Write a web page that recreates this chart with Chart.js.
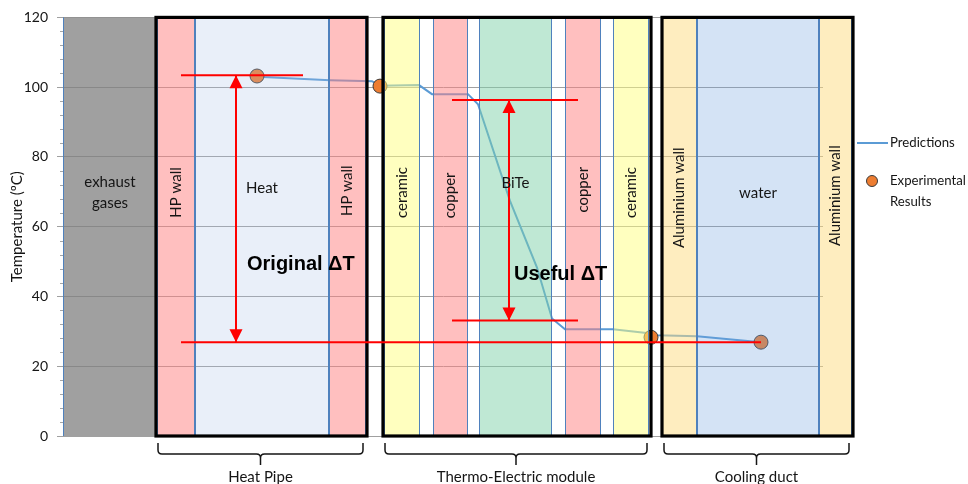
<!DOCTYPE html>
<html>
<head>
<meta charset="utf-8">
<script src="https://cdn.jsdelivr.net/npm/chart.js@4.4.1/dist/chart.umd.min.js"></script>
<style>
  html, body { margin: 0; padding: 0; background: #fff; }
  #wrap { width: 968px; height: 484px; }
</style>
</head>
<body>
<div id="wrap"><canvas id="chart" width="968" height="484"></canvas></div>
<script>
// 数据 (x = position across the assembly, y = temperature in ºC)
const predX = [195, 200, 267, 309, 317, 356, 369, 405, 415, 447, 474, 489, 502, 550, 588, 594, 634, 698];
const predY = [103.1, 102.9, 102.0, 101.7, 100.4, 100.6, 98.0, 98.0, 95.1, 67.4, 48.3, 33.7, 30.6, 30.6, 29.4, 28.9, 28.6, 26.9];
const expX = [194, 317, 588, 698];
const expY = [103.2, 100.3, 28.3, 26.9];

// layers of the assembly
const layerNames = ['exhaust gases', 'HP wall', 'Heat', 'HP wall', 'ceramic', 'copper', 'BiTe', 'copper', 'ceramic', 'Aluminium wall', 'water', 'Aluminium wall'];
const layerKinds = ['gas', 'hpwall', 'hpcore', 'hpwall', 'ceramic', 'copper', 'bite', 'copper', 'ceramic', 'alu', 'water', 'alu'];
const layerStart = [0, 94, 132, 266, 321, 370, 416, 502, 550, 599, 634, 756];
const layerEnd = [94, 132, 266, 303, 357, 405, 489, 538, 586, 634, 756, 789];
const layerLabelY = [69.9, 69.8, 71.1, 70.3, 69.8, 69.0, 72.6, 70.6, 69.8, 68.3, 69.7, 68.9];

// groups (boxes + braces underneath)
const groupNames = ['Heat Pipe', 'Thermo-Electric module', 'Cooling duct'];
const groupStart = [93, 320, 599];
const groupEnd = [304, 588, 790];

// ΔT annotations
const deltaNames = ['Original \u0394T', 'Useful \u0394T'];
const deltaX = [173, 446];
const deltaTop = [103.4, 96.3];
const deltaBottom = [26.9, 33.1];
const deltaFrom = [118, 389];
const deltaTopTo = [240, 515];
const deltaBottomTo = [698, 515];
const deltaLabelX = [184, 451];
const deltaLabelY = [49.1, 46.3];

const yTicks = [0, 20, 40, 60, 80, 100, 120];

// 样式
const FONT = "Lato, 'Open Sans', sans-serif";
const TEXT = '#151515';
const RED = '#ff0000';
const PRED_COLOR = '#5b9bd5';
const EXP_COLOR = '#ed7d31';
const fills = {
    gas: 'rgba(128,128,128,0.75)',
    hpwall: 'rgba(255,128,128,0.5)',
    hpcore: 'rgba(167,191,231,0.25)',
    ceramic: 'rgba(255,255,128,0.5)',
    copper: 'rgba(255,128,128,0.5)',
    bite: 'rgba(128,210,170,0.5)',
    alu: 'rgba(253,220,128,0.5)',
    water: 'rgba(112,162,222,0.3)'
};
const vertical = { hpwall: true, ceramic: true, copper: true, alu: true };

const redSets = [];
deltaNames.forEach((n, i) => {
    redSets.push([{ x: deltaFrom[i], y: deltaTop[i] }, { x: deltaTopTo[i], y: deltaTop[i] }]);
    redSets.push([{ x: deltaFrom[i], y: deltaBottom[i] }, { x: deltaBottomTo[i], y: deltaBottom[i] }]);
    redSets.push([{ x: deltaX[i], y: deltaTop[i] }, { x: deltaX[i], y: deltaBottom[i] }]);
});

const EXP_INDEX = 1;

function brace(ctx, x0, x1, y0) {
    const xm = (x0 + x1) / 2, r = 4, yh = y0 + 11, yt = y0 + 22;
    ctx.beginPath();
    ctx.moveTo(x0, y0);
    ctx.lineTo(x0, yh - r);
    ctx.quadraticCurveTo(x0, yh, x0 + r, yh);
    ctx.lineTo(xm - r, yh);
    ctx.quadraticCurveTo(xm, yh, xm, yh + r);
    ctx.lineTo(xm, yt);
    ctx.moveTo(xm, yh + r);
    ctx.quadraticCurveTo(xm, yh, xm + r, yh);
    ctx.lineTo(x1 - r, yh);
    ctx.quadraticCurveTo(x1, yh, x1, yh - r);
    ctx.lineTo(x1, y0);
    ctx.stroke();
}

const overlay = {
    id: 'overlay',
    beforeDatasetsDraw(chart) {
        // minor ticks on the y axis
        const { ctx, chartArea: a, scales: { y } } = chart;
        ctx.save();
        ctx.strokeStyle = '#a6a6a6';
        ctx.lineWidth = 1;
        for (let v = 0; v <= 120; v += 4) {
            if (v % 20 === 0) continue;
            const py = Math.round(y.getPixelForValue(v)) + 0.5;
            ctx.beginPath();
            ctx.moveTo(a.left - 3, py);
            ctx.lineTo(a.left, py);
            ctx.stroke();
        }
        ctx.restore();
    },
    afterDatasetDraw(chart, args) {
        if (args.index !== EXP_INDEX) return;
        const { ctx, scales: { x, y } } = chart;
        const top = y.getPixelForValue(120), bot = y.getPixelForValue(0);
        ctx.save();
        layerNames.forEach((n, i) => {
            const x0 = x.getPixelForValue(layerStart[i]), x1 = x.getPixelForValue(layerEnd[i]);
            ctx.fillStyle = fills[layerKinds[i]];
            ctx.fillRect(x0, top, x1 - x0, bot - top);
            ctx.strokeStyle = '#4f81bd';
            ctx.lineWidth = 1;
            ctx.beginPath();
            ctx.moveTo(Math.round(x0) + 0.5, top); ctx.lineTo(Math.round(x0) + 0.5, bot);
            ctx.moveTo(Math.round(x1) - 0.5, top); ctx.lineTo(Math.round(x1) - 0.5, bot);
            ctx.stroke();
        });
        ctx.strokeStyle = '#000';
        ctx.lineWidth = 3.2;
        groupNames.forEach((n, i) => {
            const x0 = x.getPixelForValue(groupStart[i]), x1 = x.getPixelForValue(groupEnd[i]);
            ctx.strokeRect(x0, top, x1 - x0, bot - top);
        });
        ctx.restore();
    },
    afterDatasetsDraw(chart) {
        const { ctx, chartArea: a, scales: { x, y } } = chart;
        ctx.save();
        // arrowheads
        ctx.fillStyle = RED;
        deltaNames.forEach((n, i) => {
            const px = x.getPixelForValue(deltaX[i]);
            const pt = y.getPixelForValue(deltaTop[i]);
            const pb = y.getPixelForValue(deltaBottom[i]);
            ctx.beginPath();
            ctx.moveTo(px, pt); ctx.lineTo(px - 6.5, pt + 13); ctx.lineTo(px + 6.5, pt + 13); ctx.closePath(); ctx.fill();
            ctx.beginPath();
            ctx.moveTo(px, pb); ctx.lineTo(px - 6.5, pb - 13); ctx.lineTo(px + 6.5, pb - 13); ctx.closePath(); ctx.fill();
        });
        // layer labels
        ctx.fillStyle = TEXT;
        ctx.font = '15px ' + FONT;
        ctx.textAlign = 'center';
        ctx.textBaseline = 'middle';
        layerNames.forEach((n, i) => {
            const cx = x.getPixelForValue((layerStart[i] + layerEnd[i]) / 2);
            const cy = y.getPixelForValue(layerLabelY[i]);
            if (vertical[layerKinds[i]]) {
                ctx.save();
                ctx.translate(cx, cy);
                ctx.rotate(-Math.PI / 2);
                ctx.fillText(n, 0, 0);
                ctx.restore();
            } else if (n === 'exhaust gases') {
                ctx.fillText('exhaust', cx, cy - 10.5);
                ctx.fillText('gases', cx, cy + 10.5);
            } else {
                ctx.fillText(n, cx, cy);
            }
        });
        // ΔT labels
        ctx.font = "bold 20px 'Liberation Sans', Arial, sans-serif";
        ctx.textAlign = 'left';
        ctx.fillStyle = '#000';
        deltaNames.forEach((n, i) => {
            ctx.fillText(n, x.getPixelForValue(deltaLabelX[i]), y.getPixelForValue(deltaLabelY[i]));
        });
        // braces + group names
        ctx.strokeStyle = TEXT;
        ctx.lineWidth = 1.5;
        ctx.fillStyle = TEXT;
        ctx.font = '15px ' + FONT;
        ctx.textAlign = 'center';
        const by = a.bottom + 7;
        groupNames.forEach((n, i) => {
            const x0 = x.getPixelForValue(groupStart[i]) + 2;
            const x1 = x.getPixelForValue(groupEnd[i]) - 4;
            brace(ctx, x0, x1, by);
            ctx.fillText(n, (x0 + x1) / 2, by + 34);
        });
        // legend
        const lx = a.right + 34;
        const ds = chart.data.datasets;
        ctx.strokeStyle = ds[0].borderColor;
        ctx.lineWidth = 2;
        ctx.beginPath();
        ctx.moveTo(lx, 143); ctx.lineTo(lx + 31, 143);
        ctx.stroke();
        ctx.beginPath();
        ctx.arc(lx + 15, 181, 5.5, 0, Math.PI * 2);
        ctx.fillStyle = ds[1].backgroundColor;
        ctx.fill();
        ctx.lineWidth = 1;
        ctx.strokeStyle = ds[1].borderColor;
        ctx.stroke();
        ctx.fillStyle = TEXT;
        ctx.font = '13.2px ' + FONT;
        ctx.textAlign = 'left';
        ctx.fillText(ds[0].label, lx + 33, 143);
        ctx.fillText('Experimental', lx + 33, 181);
        ctx.fillText('Results', lx + 33, 202);
        ctx.restore();
    }
};

new Chart(document.getElementById('chart'), {
    type: 'scatter',
    data: {
        datasets: [
            {
                label: 'Predictions',
                data: predX.map((v, i) => ({ x: v, y: predY[i] })),
                showLine: true,
                borderColor: PRED_COLOR,
                borderWidth: 2,
                pointRadius: 0,
                order: 3
            },
            {
                label: 'Experimental Results',
                data: expX.map((v, i) => ({ x: v, y: expY[i] })),
                backgroundColor: EXP_COLOR,
                borderColor: '#3a3a3a',
                borderWidth: 1,
                pointRadius: 7,
                order: 2
            },
            ...redSets.map(d => ({
                data: d,
                showLine: true,
                borderColor: RED,
                borderWidth: 2,
                pointRadius: 0,
                order: 1
            }))
        ]
    },
    options: {
        responsive: false,
        animation: false,
        devicePixelRatio: 1,
        layout: { padding: { left: 0, top: 16, right: 145, bottom: 48 } },
        plugins: { legend: { display: false }, tooltip: { enabled: false } },
        scales: {
            x: { type: 'linear', display: false, min: 0, max: 760 },
            y: {
                min: 0, max: 120,
                afterFit: s => { s.width = 63; },
                afterBuildTicks: s => { s.ticks = yTicks.map(v => ({ value: v })); },
                grid: { color: '#a0a0a0', tickLength: 6, tickColor: '#a0a0a0' },
                border: { color: '#a0a0a0' },
                ticks: { font: { family: FONT, size: 14 }, color: TEXT, padding: 9 },
                title: {
                    display: true,
                    text: 'Temperature (\u00baC)',
                    font: { family: FONT, size: 15 },
                    color: TEXT,
                    padding: { top: 8, bottom: 0 }
                }
            }
        }
    },
    plugins: [overlay]
});
</script>
</body>
</html>
